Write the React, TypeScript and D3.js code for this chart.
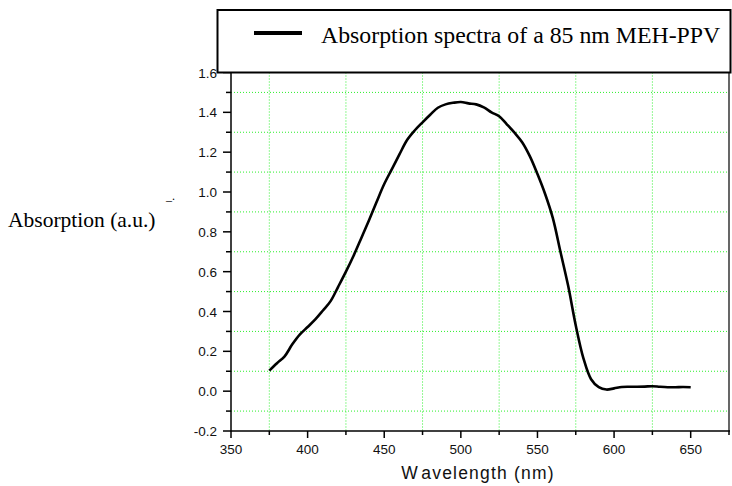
import React from "react";
import * as d3 from "d3";

const wavelengths = [
  375, 380, 385, 390, 395, 400, 405, 410, 415, 420, 425, 430, 435, 440, 445, 450,
  455, 460, 465, 470, 475, 480, 485, 490, 495, 500, 505, 510, 515, 520, 525, 530,
  535, 540, 545, 550, 555, 560, 565, 570, 575, 580, 585, 590, 595, 600, 605, 610,
  615, 620, 625, 630, 635, 640, 645, 650,
];
const absorption = [
  0.103, 0.14, 0.175, 0.235, 0.285, 0.322, 0.36, 0.405, 0.452, 0.525, 0.6, 0.68,
  0.768, 0.857, 0.95, 1.04, 1.115, 1.19, 1.262, 1.31, 1.35, 1.388, 1.423, 1.44,
  1.448, 1.452, 1.445, 1.44, 1.425, 1.4, 1.38, 1.34, 1.298, 1.25, 1.18, 1.09,
  0.99, 0.87, 0.7, 0.53, 0.33, 0.165, 0.06, 0.02, 0.008, 0.014, 0.021, 0.022,
  0.022, 0.023, 0.025, 0.022, 0.02, 0.02, 0.021, 0.02,
];
const xMajorTicks = [350, 400, 450, 500, 550, 600, 650];
const xMinorTicks = [375, 425, 475, 525, 575, 625];
const yMajorTicks = [-0.2, 0, 0.2, 0.4, 0.6, 0.8, 1.0, 1.2, 1.4, 1.6];
const yMinorTicks = [-0.1, 0.1, 0.3, 0.5, 0.7, 0.9, 1.1, 1.3, 1.5];
const legendLabel = "Absorption spectra of a 85 nm MEH-PPV";
const xTitleFirst = "W";
const xTitleRest = "avelength (nm)";
const yTitle = "Absorption (a.u.)";

const W = 732;
const H = 486;
const left = 231;
const right = 729;
const top = 72.5;
const bottom = 431;

export default function App() {
  const x = d3.scaleLinear().domain([350, 675]).range([left, right]);
  const y = d3.scaleLinear().domain([-0.2, 1.6]).range([bottom, top]);
  const pts: [number, number][] = wavelengths.map((w, i) => [w, absorption[i]]);
  const line = d3
    .line<[number, number]>()
    .x((d) => x(d[0]))
    .y((d) => y(d[1]))
    .curve(d3.curveCatmullRom.alpha(0.5));

  const sans = "'Liberation Sans', Arial, sans-serif";
  const serif = "'Liberation Serif', 'Times New Roman', serif";
  const grid = "#2bf02b";

  return (
    <svg
      width={W}
      height={H}
      style={{ position: "absolute", left: 0, top: 0, background: "#fff" }}
    >
      <rect x={0} y={0} width={W} height={H} fill="#fff" />
      {xMinorTicks.map((t) => (
        <line
          key={"gx" + t}
          x1={x(t)}
          x2={x(t)}
          y1={top}
          y2={bottom}
          stroke={grid}
          strokeWidth={1}
          strokeDasharray="1,2"
        />
      ))}
      {yMinorTicks.map((t) => (
        <line
          key={"gy" + t}
          x1={left}
          x2={right}
          y1={y(t)}
          y2={y(t)}
          stroke={grid}
          strokeWidth={1}
          strokeDasharray="1,2"
        />
      ))}
      <line x1={right} x2={right} y1={top} y2={bottom} stroke="#000" strokeWidth={1.2} />
      <line x1={left} x2={left} y1={top} y2={bottom + 0.5} stroke="#000" strokeWidth={1.5} />
      <line x1={left} x2={right + 1} y1={bottom} y2={bottom} stroke="#000" strokeWidth={1.5} />
      {xMajorTicks.map((t) => (
        <g key={"xt" + t}>
          <line x1={x(t)} x2={x(t)} y1={bottom} y2={bottom + 7} stroke="#000" strokeWidth={1.5} />
          <text
            x={x(t)}
            y={bottom + 23}
            textAnchor="middle"
            fontFamily={sans}
            fontSize={13.5}
            fill="#111"
          >
            {t}
          </text>
        </g>
      ))}
      {xMinorTicks.map((t) => (
        <line key={"xm" + t} x1={x(t)} x2={x(t)} y1={bottom} y2={bottom + 4} stroke="#000" strokeWidth={1.5} />
      ))}
      <line x1={right} x2={right} y1={bottom} y2={bottom + 4} stroke="#000" strokeWidth={1.5} />
      {yMajorTicks.map((t) => (
        <g key={"yt" + t}>
          <line x1={left - 8} x2={left} y1={y(t)} y2={y(t)} stroke="#000" strokeWidth={1.5} />
          <text
            x={left - 14}
            y={y(t) + 5}
            textAnchor="end"
            fontFamily={sans}
            fontSize={13.5}
            fill="#111"
          >
            {d3.format(".1f")(t).replace("−", "-")}
          </text>
        </g>
      ))}
      {yMinorTicks.map((t) => (
        <line key={"ym" + t} x1={left - 5} x2={left} y1={y(t)} y2={y(t)} stroke="#000" strokeWidth={1.5} />
      ))}
      <path d={line(pts) || ""} fill="none" stroke="#000" strokeWidth={2.6} strokeLinejoin="round" />
      <rect x={217.5} y={10} width={513} height={62.5} fill="#fff" stroke="#000" strokeWidth={2} />
      <line x1={254} x2={302} y1={33} y2={33} stroke="#000" strokeWidth={4} />
      <text x={321} y={43} fontFamily={serif} fontSize={23.8} fill="#000">
        {legendLabel}
      </text>
      <text x={8} y={227} fontFamily={serif} fontSize={21.5} fill="#000">
        {yTitle}
      </text>
      <text x={166} y={200} fontFamily={serif} fontSize={12} fill="#000">
        _.
      </text>
      <text
        x={478}
        y={479}
        textAnchor="middle"
        fontFamily={sans}
        fontSize={17.5}
        letterSpacing={1.2}
        fill="#111"
      >
        <tspan>{xTitleFirst}</tspan>
        <tspan dx={3}>{xTitleRest}</tspan>
      </text>
    </svg>
  );
}
